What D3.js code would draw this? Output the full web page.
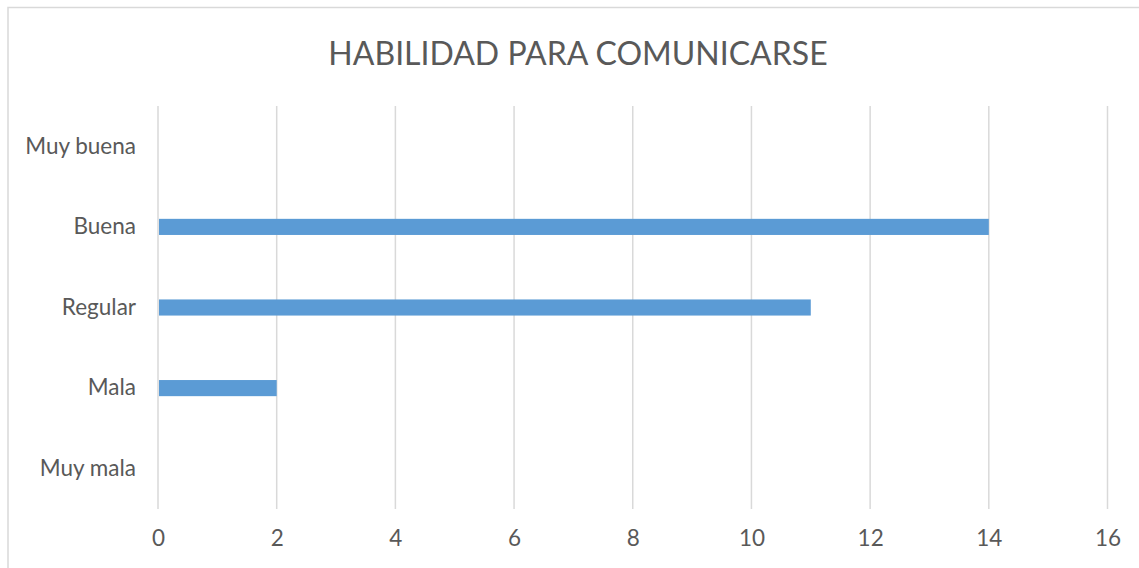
<!DOCTYPE html>
<html>
<head>
<meta charset="utf-8">
<script src="https://cdn.jsdelivr.net/npm/d3@7"></script>
<style>
  html, body { margin: 0; padding: 0; background: #fff; }
  svg { display: block; font-family: Lato, "Open Sans", sans-serif; }
</style>
</head>
<body>
<svg id="chart" width="1139" height="568"></svg>
<script>
// Survey results: communication ability ratings
const title = "HABILIDAD PARA COMUNICARSE";
const categories = ["Muy buena", "Buena", "Regular", "Mala", "Muy mala"];
const values = [0, 14, 11, 2, 0];
const xTicks = [0, 2, 4, 6, 8, 10, 12, 14, 16];

const W = 1139, H = 568;
const margin = { top: 106, right: 31.5, bottom: 59, left: 158 };
const svg = d3.select("#chart");

// outer chart frame
svg.append("rect")
  .attr("x", 8).attr("y", 7.5)
  .attr("width", W + 10).attr("height", H + 10)
  .attr("fill", "none").attr("stroke", "#d9d9d9").attr("stroke-width", 1.5);

svg.append("text")
  .attr("x", 578).attr("y", 65)
  .attr("text-anchor", "middle")
  .attr("font-size", 32)
  .attr("fill", "#595959")
  .text(title);

const x = d3.scaleLinear()
  .domain([0, 16])
  .range([margin.left, W - margin.right]);

const y = d3.scaleBand()
  .domain(categories)
  .range([margin.top, H - margin.bottom])
  .paddingInner(0.8).paddingOuter(0.4);

// vertical gridlines
svg.append("g")
  .selectAll("line")
  .data(xTicks)
  .join("line")
  .attr("x1", d => x(d)).attr("x2", d => x(d))
  .attr("y1", margin.top).attr("y2", H - margin.bottom)
  .attr("stroke", "#d9d9d9").attr("stroke-width", 1.5);

// bars
svg.append("g")
  .selectAll("rect")
  .data(categories.map((c, i) => ({ c, v: values[i] })))
  .join("rect")
  .attr("x", x(0) + 1)
  .attr("y", d => y(d.c))
  .attr("width", d => Math.max(0, x(d.v) - x(0) - 1))
  .attr("height", y.bandwidth())
  .attr("fill", "#5b9bd5");

// x axis labels
const xAxis = d3.axisBottom(x).tickValues(xTicks).tickSize(0).tickPadding(14);
const gx = svg.append("g")
  .attr("transform", `translate(0,${H - margin.bottom + 7})`)
  .call(xAxis);
gx.select(".domain").remove();
gx.selectAll("text")
  .attr("font-family", "Lato, 'Open Sans', sans-serif")
  .attr("font-size", 22.5).attr("fill", "#595959");

// category labels
const yAxis = d3.axisLeft(y).tickSize(0).tickPadding(22);
const gy = svg.append("g")
  .attr("transform", `translate(${margin.left},0)`)
  .call(yAxis);
gy.select(".domain").remove();
gy.selectAll("text")
  .attr("font-family", "Lato, 'Open Sans', sans-serif")
  .attr("font-size", 22.5).attr("fill", "#595959");
</script>
</body>
</html>
